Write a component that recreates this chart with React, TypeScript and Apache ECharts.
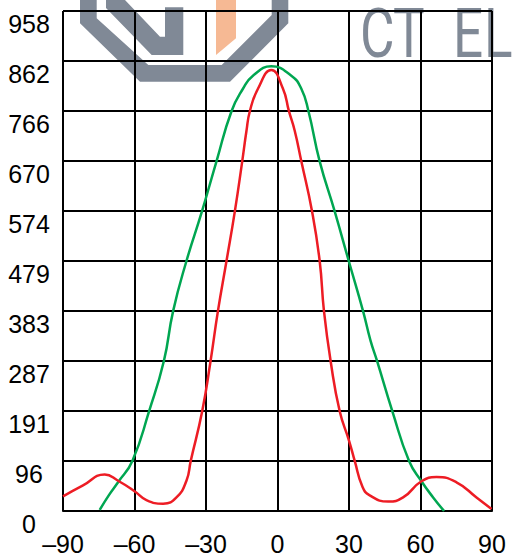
import React, { useEffect, useRef } from "react";
import * as echarts from "echarts";

const xTickLabels = ["–90", "–60", "–30", "0", "30", "60", "90"];
const yTickLabels = ["0", "96", "191", "287", "383", "479", "574", "670", "766", "862", "958"];
const yMax = 958;

const greenAngles = [-74.6, -70.8, -66.9, -60.9, -53.9, -47.7, -43.8, -38.2, -31.7, -25.6, -19.3, -14.5, -10.3, -2.6, 5.8, 10.0, 13.0, 17.7, 24.0, 29.9, 35.9, 39.0, 41.8, 48.2, 55.2, 60.4, 65.3, 69.9];
const greenValues = [2, 30, 55, 96, 191, 287, 383, 479, 574, 670, 766, 809, 834, 852, 834, 809, 766, 670, 574, 479, 383, 327, 287, 191, 96, 57, 26, 0];

const redAngles = [-90, -81.6, -72.5, -66.9, -60, -55, -48, -42.4, -38.2, -36.4, -31.6, -28.1, -25.0, -21.4, -17.9, -14.8, -13.0, -11.6, -8.2, -2.6, 2.3, 4.8, 7.2, 10.0, 14.5, 17.7, 19.5, 22.3, 26.1, 30.0, 32.4, 35.6, 38.7, 46.4, 52.7, 60.4, 66.7, 75.1, 83.5, 89.8];
const redValues = [28, 49, 70, 58, 38, 21, 14, 26, 58, 96, 191, 287, 383, 479, 574, 670, 729, 766, 809, 845, 809, 766, 729, 670, 574, 479, 383, 287, 191, 135, 96, 47, 30, 18, 26, 57, 65, 55, 26, 4];

const logoLetters = ["C", "T", "E", "L"];

const pairs = (xs: number[], ys: number[]) => xs.map((x, i) => [x, ys[i]]);

const GRAY = "#808996";
const ORANGE = "#f6b994";

export default function App() {
  const ref = useRef<HTMLDivElement>(null);
  useEffect(() => {
    if (!ref.current) return;
    const chart = echarts.init(ref.current, null, { renderer: "svg" });
    const font = "Liberation Sans";
    const letterX = [360, 393, 453, 484];
    const letters = logoLetters.map((ch, i) => ({
      type: "text",
      z: 1,
      x: letterX[i],
      y: 34,
      scaleX: 0.78,
      style: {
        text: ch,
        fill: GRAY,
        fontSize: 68,
        lineHeight: 68,
        fontFamily: "Roboto",
        fontWeight: 400,
        align: "left",
        verticalAlign: "middle",
      },
    }));
    chart.setOption({
      animation: false,
      backgroundColor: "#fff",
      grid: { left: 63, right: 21, top: 11, bottom: 48, containLabel: false },
      xAxis: {
        type: "value",
        min: -90,
        max: 90,
        interval: 30,
        z: 5,
        axisLine: { show: true, lineStyle: { color: "#000", width: 2 } },
        axisTick: { show: false },
        splitLine: { show: true, lineStyle: { color: "#000", width: 2 } },
        axisLabel: {
          margin: 20,
          color: "#000",
          fontSize: 25,
          fontFamily: font,
          formatter: (v: number) => xTickLabels[Math.round((v + 90) / 30)] ?? "",
        },
      },
      yAxis: {
        type: "value",
        min: 0,
        max: yMax,
        interval: yMax / 10,
        z: 5,
        axisLine: { show: true, lineStyle: { color: "#000", width: 2 } },
        axisTick: { show: false },
        splitLine: { show: true, lineStyle: { color: "#000", width: 2 } },
        axisLabel: {
          margin: 34,
          align: "center",
          verticalAlign: "top",
          color: "#000",
          fontSize: 25,
          fontFamily: font,
          formatter: (v: number) => yTickLabels[Math.round(v / (yMax / 10))] ?? "",
        },
      },
      graphic: [
        {
          type: "polygon",
          z: 1,
          shape: {
            points: [
              [80, 0], [80, 23.3], [140, 81.7], [230, 81.7], [288.3, 23.3], [288.3, 0],
              [271.7, 0], [271.7, 15], [221.7, 65], [148.3, 65], [96.7, 18.3], [96.7, 0],
            ],
          },
          style: { fill: GRAY },
        },
        {
          type: "polygon",
          z: 1,
          shape: {
            points: [
              [106, 0], [125, 0], [160, 36.7], [165, 36.7], [165, 7.3], [183.3, 7.3],
              [183.3, 55], [151.7, 55], [106, 8],
            ],
          },
          style: { fill: GRAY },
        },
        {
          type: "polygon",
          z: 1,
          shape: { points: [[216, 0], [236, 0], [236, 38.3], [216, 55]] },
          style: { fill: ORANGE },
        },
        ...letters,
      ],
      series: [
        {
          type: "line",
          z: 6,
          data: pairs(greenAngles, greenValues),
          smooth: 0.5,
          showSymbol: false,
          lineStyle: { color: "#00a651", width: 2.5 },
        },
        {
          type: "line",
          z: 7,
          data: pairs(redAngles, redValues),
          smooth: 0.5,
          showSymbol: false,
          lineStyle: { color: "#ed1c24", width: 2.5 },
        },
      ],
    });
    return () => chart.dispose();
  }, []);
  return (
    <div
      ref={ref}
      style={{ position: "absolute", left: 0, top: 0, width: 513, height: 559 }}
    />
  );
}
